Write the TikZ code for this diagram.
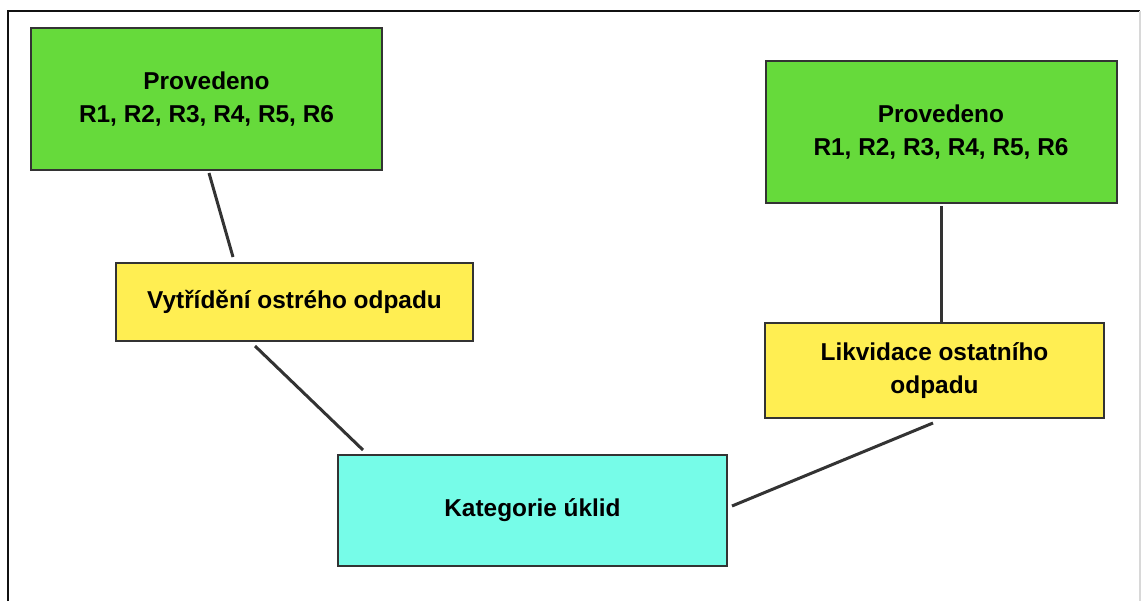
\documentclass[tikz,border=0pt]{standalone}
\usepackage{fontspec}
\setmainfont{Liberation Sans}
\usepackage{xcolor}
\usepackage{tikz}
\usetikzlibrary{calc}
\definecolor{frame}{HTML}{111111}
\definecolor{edge}{HTML}{333333}
\definecolor{rim}{HTML}{D8D8D8}
\definecolor{done}{HTML}{66DA3B}
\definecolor{task}{HTML}{FFEE52}
\definecolor{cat}{HTML}{76FCE8}
\tikzset{
  box/.style={draw=edge, line width=1pt, inner sep=0pt, align=center,
    font=\fontsize{12.2}{16.5}\selectfont\bfseries},
  donebox/.style={box, fill=done, minimum width=175.5pt, minimum height=71pt},
  taskbox/.style={box, fill=task},
  catbox/.style={box, fill=cat, minimum width=194.5pt, minimum height=55.5pt},
  link/.style={draw=edge, line width=1.5pt},
}

\begin{document}
\begin{tikzpicture}[x=0.5pt,y=-0.5pt]
  \useasboundingbox (0,0) rectangle (1141,601);

  % outer frame
  \draw[frame, line width=1.2pt] (8,601) -- (8,11) -- (1140,11);
  \draw[rim, line width=1pt] (1140,11) -- (1140,601);

  \node[donebox] (done1) at (206.5,99) {Provedeno\\R1, R2, R3, R4, R5, R6};
  \node[donebox] (done2) at (941,132) {Provedeno\\R1, R2, R3, R4, R5, R6};
  \node[taskbox, minimum width=178.5pt, minimum height=39pt] (sort) at (294.5,302)
    {Vytřídění ostrého odpadu};
  \node[taskbox, minimum width=169.5pt, minimum height=47.5pt] (dispose) at (934.5,370.5)
    {Likvidace ostatního\\odpadu};
  \node[catbox] (cat) at (532.5,510.5) {Kategorie úklid};

  \draw[link] ($(done1.south)+(2.5,2)$) -- ($(sort.north)+(-61.5,-5)$);
  \draw[link] ($(sort.south)+(-39.5,4)$) -- ($(cat.north)+(-169.5,-4)$);
  \draw[link] ($(cat.east)+(4,-4.5)$) -- ($(dispose.south)+(-1.5,4)$);
  \draw[link] ($(done2.south)+(0,2)$) -- ($(dispose.north)+(6.5,0)$);
\end{tikzpicture}
\end{document}
